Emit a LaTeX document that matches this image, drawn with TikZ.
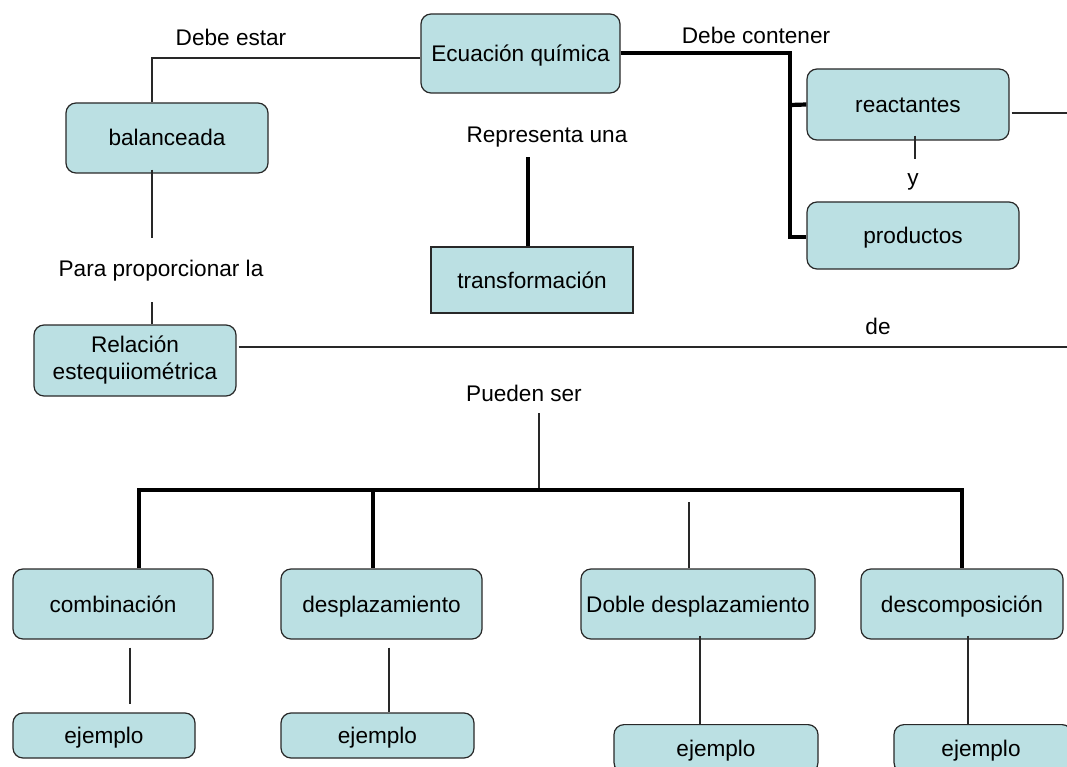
\documentclass[tikz,border=0pt]{standalone}
\usepackage{fontspec}
\setmainfont{Liberation Sans}
\definecolor{boxc}{RGB}{187,224,227}
\definecolor{edgec}{RGB}{40,40,40}
\newcommand\dfont{\fontsize{22.6}{27}\selectfont}
\begin{document}
\begin{tikzpicture}[x=1pt,y=-1pt,
  box/.style={draw=edgec, fill=boxc, rounded corners=10pt, line width=1.2pt, inner sep=0pt, font=\dfont, align=center},
  oneline/.style={text height=16pt, text depth=0pt},
  sqbox/.style={draw=edgec, fill=boxc, line width=1.2pt, inner sep=0pt, font=\dfont, text height=16pt, text depth=0pt},
  lbl/.style={inner sep=0pt, font=\dfont},
  thinline/.style={line width=1.2pt, draw=edgec},
  medline/.style={line width=3.2pt, line join=miter},
  thkline/.style={line width=4.2pt, line join=miter},
]
\useasboundingbox (0,0) rectangle (1067,767);
\clip (0,0) rectangle (1067,767);

% boxes
\node[box, oneline, minimum width=199pt, minimum height=79pt] (ecu) at (520.5,53.5) {Ecuación química};
\node[box, oneline, minimum width=202pt, minimum height=70pt] (bal) at (167,138) {balanceada};
\node[box, oneline, minimum width=202pt, minimum height=71pt] (rea) at (908,104.5) {reactantes};
\node[box, oneline, minimum width=212pt, minimum height=67pt] (pro) at (913,235.5) {productos};
\node[sqbox, minimum width=202pt, minimum height=66pt] (tra) at (532,280) {transformación};
\node[box, minimum width=202pt, minimum height=71pt] (rel) at (135,360.5) {Relación\\estequiiométrica};
\node[box, oneline, minimum width=200pt, minimum height=70pt] (com) at (113,604) {combinación};
\node[box, oneline, minimum width=201pt, minimum height=70pt] (des) at (381.5,604) {desplazamiento};
\node[box, oneline, minimum width=234pt, minimum height=70pt] (dob) at (698,604) {Doble desplazamiento};
\node[box, oneline, minimum width=202pt, minimum height=70pt] (dsc) at (962,604) {descomposición};
\node[box, oneline, minimum width=182pt, minimum height=45pt] (ej1) at (104,735.5) {ejemplo};
\node[box, oneline, minimum width=193pt, minimum height=45pt] (ej2) at (377.5,735.5) {ejemplo};
\node[box, minimum width=204pt, minimum height=48pt, anchor=north] (ej3) at (716,724) {};
\node[lbl, oneline] (ej3t) at (716,748) {ejemplo};
\node[box, minimum width=178pt, minimum height=48pt, anchor=north] (ej4) at (983,724) {};
\node[lbl, oneline] (ej4t) at (981,748) {ejemplo};

% labels
\node[lbl] (l1) at (231,37) {Debe estar};
\node[lbl] (l2) at (756,35) {Debe contener};
\node[lbl] (l3) at (547,137) {Representa una};
\node[lbl] (l4) at (913,182) {y};
\node[lbl] (l5) at (161,271) {Para proporcionar la};
\node[lbl] (l6) at (878,326) {de};
\node[lbl] (l7) at (524,393) {Pueden ser};

% connectors
\draw[thinline] (ecu.west |- 0,58) -| (bal.north -| 152,0);
\draw[thinline] (bal.south -| 152,0) ++(0,-4) -- ++(0,68);
\draw[thinline] (rel.north -| 152,0) -- ++(0,-22);
\draw[thinline] (rel.east |- 0,347) ++(2,0) -- (1067,347);
\draw[thinline] (rea.east |- 0,113) ++(2,0) -- (1067,113);
\draw[thinline] (rea.south -| 915,0) ++(0,-5) -- ++(0,23);
\draw[thkline] (ecu.east |- 0,53) -- (790,53) -- (790,237) -- (pro.west |- 0,237);
\draw[thkline] (790,105) -- (rea.west);
\draw[thkline] (tra.north -| 528,0) -- ++(0,-89);
\draw[thinline] (539,413) -- (539,490);
\draw[medline] (com.north -| 139,0) -- (139,490) -- (962,490) -- (dsc.north -| 962,0);
\draw[thkline] (373,490) -- (690,490);
\draw[thkline] (373,490) -- (des.north -| 373,0);
\draw[thinline] (dob.north -| 689,0) -- ++(0,-66);
\draw[thinline] (com.south -| 130,0) ++(0,8) -- ++(0,56);
\draw[thinline] (des.south -| 389,0) ++(0,8) -- (ej2.north -| 389,0);
\draw[thinline] (dob.south -| 700,0) ++(0,-4) -- (ej3.north -| 700,0);
\draw[thinline] (dsc.south -| 968,0) ++(0,-4) -- (ej4.north -| 968,0);
\end{tikzpicture}
\end{document}
